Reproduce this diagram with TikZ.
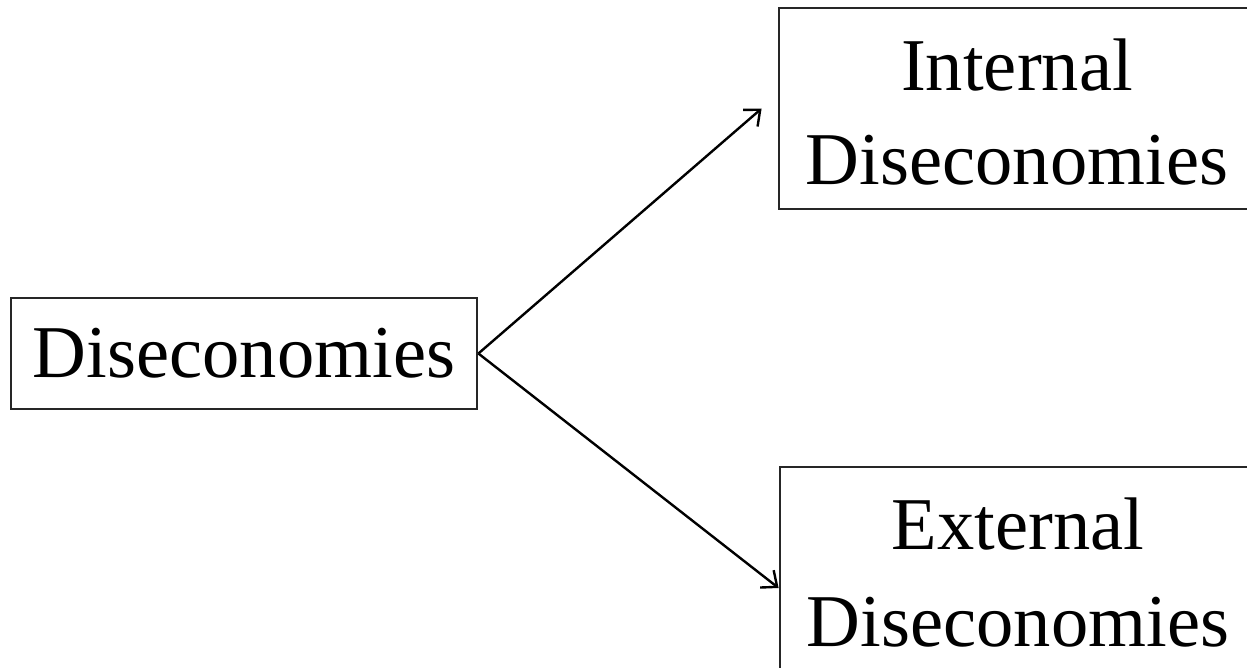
\documentclass[tikz,border=0pt]{standalone}
\usepackage{fontspec}
\setmainfont{Liberation Serif}
\usetikzlibrary{arrows.meta}
\begin{document}
\begin{tikzpicture}[x=1pt,y=1pt,
  box/.style={draw=black!85, line width=2.8pt, rectangle, inner sep=0pt},
  txt/.style={font=\fontsize{74.5}{94}\selectfont, align=center, inner sep=0pt},
  conn/.style={line width=2.4pt, -{Straight Barb[length=13pt,width=22pt,line width=2.4pt]}}]
\useasboundingbox (0,0) rectangle (1247,-667);
\clip (0,0) rectangle (1247,-667);
\node[box, txt, minimum width=466pt, minimum height=111pt] (dis) at (244,-353.5) {Diseconomies};
\node[box, minimum width=700pt, minimum height=201pt] (int) at (1129,-108.5) {};
\node[txt] (intT) at (1017,-112.5) {Internal\\Diseconomies};
\node[box, minimum width=700pt, minimum height=221pt] (ext) at (1130,-577.5) {};
\node[txt, font=\fontsize{74.5}{97}\selectfont] (extT) at (1018,-573) {External\\Diseconomies};
\draw[conn] (dis.east) -- ([xshift=-16pt]int.west);
\draw[conn] (dis.east) -- ([yshift=-10.5pt]ext.west);
\end{tikzpicture}
\end{document}
